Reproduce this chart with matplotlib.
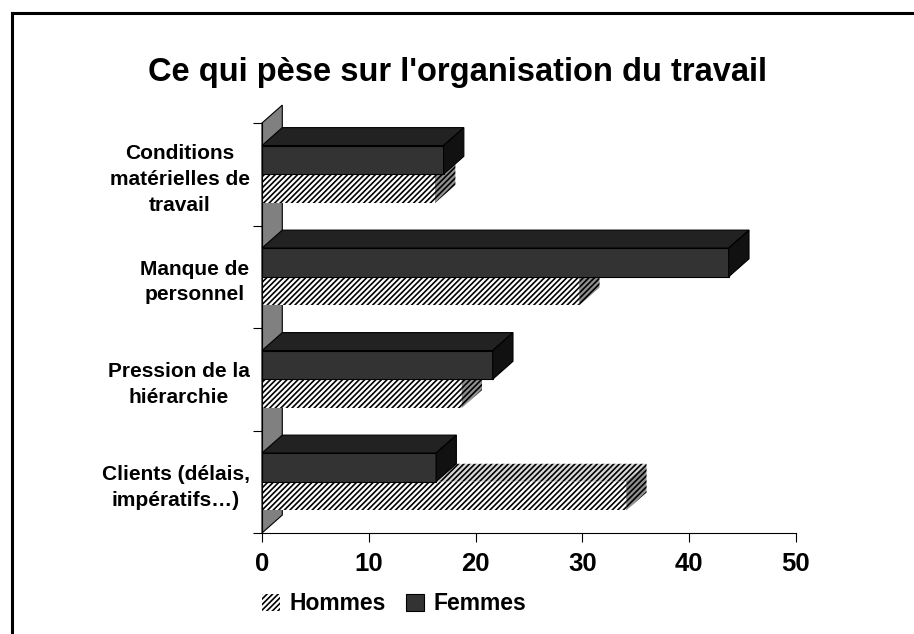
import matplotlib
matplotlib.use("Agg")
import matplotlib.pyplot as plt
from matplotlib.patches import Polygon, Patch
from matplotlib.lines import Line2D

# data, top category first
categories = ["Conditions\nmatérielles de\ntravail",
              "Manque de\npersonnel",
              "Pression de la\nhiérarchie",
              "Clients (délais,\nimpératifs…)"]
hommes = [16.2, 29.7, 18.7, 34.1]
femmes = [17.0, 43.7, 21.6, 16.3]
x_ticks = [0, 10, 20, 30, 40, 50]

plt.rcParams["font.family"] = ["Liberation Sans", "DejaVu Sans"]
plt.rcParams["font.weight"] = "bold"
plt.rcParams["hatch.linewidth"] = 1.2

DX = 1.9     # depth of the 3d effect, x units
DY = 0.175   # depth of the 3d effect, category units
H = 0.28     # bar thickness

fig = plt.figure(figsize=(9.14, 6.34), dpi=100)
ax = fig.add_axes([262/914, 1 - 533/634, 534/914, 410/634])
ax.set_xlim(0, 50)
ax.set_ylim(0, len(categories))

n = len(categories)

# left wall
wall = Polygon([(0, 0), (DX, DY), (DX, n + DY), (0, n)], closed=True,
               facecolor="#808080", edgecolor="black", lw=0.8, clip_on=False, zorder=1)
ax.add_patch(wall)


def box(v, y0, front, top, side, hatch=None):
    faces = [
        ([(0, y0), (v, y0), (v, y0 + H), (0, y0 + H)], front),
        ([(0, y0 + H), (v, y0 + H), (v + DX, y0 + H + DY), (DX, y0 + H + DY)], top),
        ([(v, y0), (v + DX, y0 + DY), (v + DX, y0 + H + DY), (v, y0 + H)], side),
    ]
    for pts, fc in faces:
        ax.add_patch(Polygon(pts, closed=True, facecolor=fc, edgecolor="black",
                             lw=0 if hatch else 0.8, hatch=hatch,
                             clip_on=False, zorder=2))


for i in range(n):
    c = n - 1 - i + 0.5
    box(hommes[i], c - H, "white", "#d8d8d8", "#909090", hatch="//////")
    box(femmes[i], c, "#333333", "#222222", "#111111")

for s in ["top", "right"]:
    ax.spines[s].set_visible(False)
for s in ["left", "bottom"]:
    ax.spines[s].set_linewidth(0.8)

ax.set_xticks(x_ticks)
ax.set_xticklabels([str(t) for t in x_ticks], fontsize=18.5, fontweight="bold")
ax.tick_params(axis="x", direction="out", length=6.5, width=0.8, pad=7)

ax.set_yticks(range(n + 1))
ax.set_yticklabels([])
ax.tick_params(axis="y", which="major", direction="out", length=6.5, width=0.8)
ax.set_yticks([n - 1 - i + 0.5 for i in range(n)], minor=True)
ax.set_yticklabels(categories, minor=True, fontsize=15, fontweight="bold",
                   multialignment="center", linespacing=1.45)
ax.tick_params(axis="y", which="minor", length=0, pad=9)

fig.text(457/914, 1 - 73/634, "Ce qui pèse sur l'organisation du travail",
         ha="center", va="center", fontsize=23.5, fontweight="bold")

handles = [Patch(facecolor="white", edgecolor="black", hatch="//////", lw=0),
           Patch(facecolor="#333333", edgecolor="black", lw=0.8)]
fig.legend(handles, ["Hommes", "Femmes"], loc="center", ncol=2,
           bbox_to_anchor=(394/914, 1 - 604/634), frameon=False,
           prop={"size": 16.5, "weight": "bold"}, handlelength=0.8,
           handleheight=0.8, handletextpad=0.4, columnspacing=0.9)

# frame of the chart area (top and left only visible)
fig.add_artist(Line2D([12/914, 12/914], [0, 1 - 13/634], color="black", lw=2.2,
                      transform=fig.transFigure))
fig.add_artist(Line2D([12/914, 1], [1 - 13/634, 1 - 13/634], color="black", lw=2.2,
                      transform=fig.transFigure))

fig.savefig("out.png", dpi=100)
